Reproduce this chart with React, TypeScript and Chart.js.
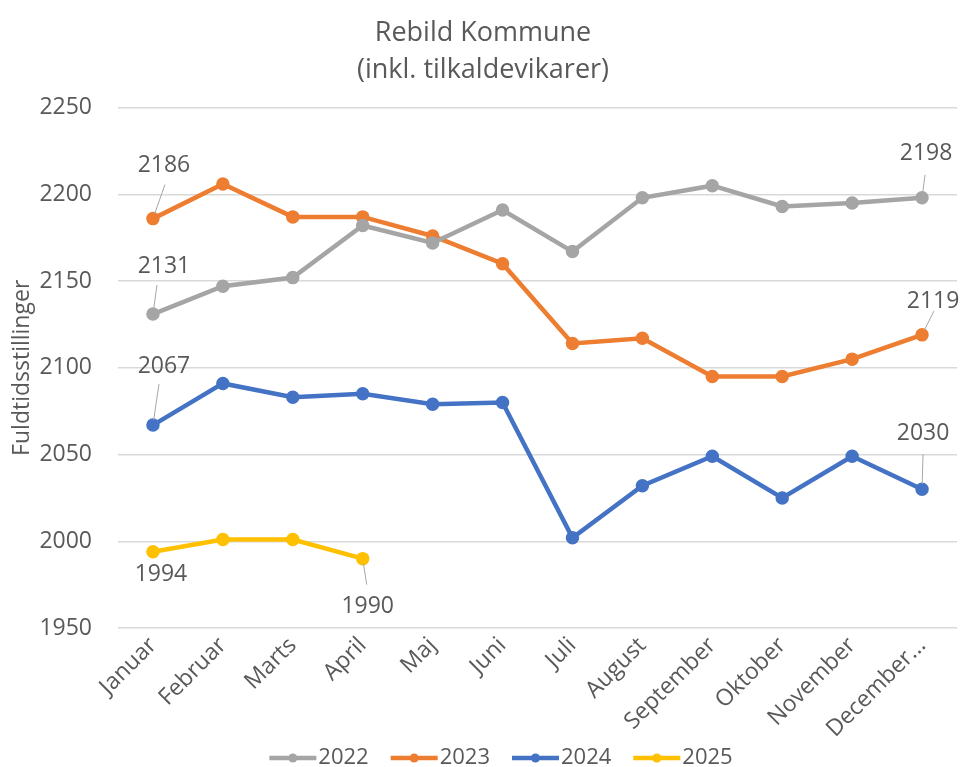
import React, { useEffect, useRef } from "react";
import { Chart, registerables } from "chart.js";

Chart.register(...registerables);

const months = ["Januar", "Februar", "Marts", "April", "Maj", "Juni", "Juli", "August", "September", "Oktober", "November", "December..."];
const years = ["2022", "2023", "2024", "2025"];
const values2022 = [2131, 2147, 2152, 2182, 2172, 2191, 2167, 2198, 2205, 2193, 2195, 2198];
const values2023 = [2186, 2206, 2187, 2187, 2176, 2160, 2114, 2117, 2095, 2095, 2105, 2119];
const values2024 = [2067, 2091, 2083, 2085, 2079, 2080, 2002, 2032, 2049, 2025, 2049, 2030];
const values2025 = [1994, 2001, 2001, 1990, null, null, null, null, null, null, null, null];
const colors = ["#A5A5A5", "#ED7D31", "#4472C4", "#FFC000"];
const yTicks = [1950, 2000, 2050, 2100, 2150, 2200, 2250];

// data labels: [datasetIndex, pointIndex, labelDx, labelDy, leaderEndDx, leaderEndDy] (leader null = none)
const labelSpecs: [number, number, number, number, number | null, number | null][] = [
  [0, 0, 11, -48, 4, -29],
  [1, 0, 11, -53, 12, -34],
  [2, 0, 11, -59, 6, -41],
  [3, 0, 8, 23, null, null],
  [3, 3, 5, 48, 4, 26],
  [0, 11, 4, -44, 3, -23],
  [1, 11, 11, -33, 12, -24],
  [2, 11, 1, -56, 1, -35],
];

const FONT = "'Open Sans', sans-serif";
const TEXT = "#595959";

const dataLabelPlugin = {
  id: "dataLabels",
  afterDatasetsDraw(chart: any) {
    const ctx = chart.ctx;
    ctx.save();
    ctx.font = `23px ${FONT}`;
    ctx.fillStyle = TEXT;
    ctx.textAlign = "center";
    ctx.textBaseline = "middle";
    for (const [di, pi, dx, dy, ex, ey] of labelSpecs) {
      const pt = chart.getDatasetMeta(di).data[pi];
      if (!pt) continue;
      const x = pt.x;
      const y = pt.y;
      const v = chart.data.datasets[di].data[pi];
      if (ex !== null && ey !== null) {
        const len = Math.hypot(ex, ey);
        ctx.strokeStyle = "#A6A6A6";
        ctx.lineWidth = 1;
        ctx.beginPath();
        ctx.moveTo(x + (ex / len) * 5, y + (ey / len) * 5);
        ctx.lineTo(x + ex, y + ey);
        ctx.stroke();
      }
      ctx.fillText(String(v), x + dx, y + dy);
    }
    ctx.restore();
  },
};

const legendPlugin = {
  id: "customLegend",
  afterDraw(chart: any) {
    const ctx = chart.ctx;
    ctx.save();
    ctx.font = `22px ${FONT}`;
    ctx.textBaseline = "middle";
    ctx.textAlign = "left";
    const lineW = 47;
    const gap = 2;
    const itemGap = 22;
    const widths = years.map((y) => ctx.measureText(y).width);
    const total = widths.reduce((a, w) => a + lineW + gap + w, 0) + itemGap * (years.length - 1);
    let x = chart.width / 2 + 18 - total / 2;
    const y = chart.height - 9;
    years.forEach((yr, i) => {
      ctx.strokeStyle = colors[i];
      ctx.lineWidth = 4.5;
      ctx.beginPath();
      ctx.moveTo(x, y);
      ctx.lineTo(x + lineW, y);
      ctx.stroke();
      ctx.fillStyle = colors[i];
      ctx.beginPath();
      ctx.arc(x + lineW / 2, y, 4.5, 0, Math.PI * 2);
      ctx.fill();
      ctx.fillStyle = TEXT;
      ctx.fillText(yr, x + lineW + gap, y);
      x += lineW + gap + widths[i] + itemGap;
    });
    ctx.restore();
  },
};

export default function App() {
  const ref = useRef<HTMLCanvasElement>(null);
  useEffect(() => {
    const seriesValues = [values2022, values2023, values2024, values2025];
    const chart = new Chart(ref.current!, {
      type: "line",
      data: {
        labels: months,
        datasets: years.map((y, i) => ({
          label: y,
          data: seriesValues[i],
          borderColor: colors[i],
          backgroundColor: colors[i],
          pointBackgroundColor: colors[i],
          pointBorderColor: colors[i],
          borderWidth: 4.5,
          pointRadius: 4.5,
          pointStyle: "circle",
          tension: 0,
          spanGaps: false,
        })) as any,
      },
      options: {
        animation: false,
        responsive: false,
        maintainAspectRatio: false,
        layout: { padding: { left: 6, right: 6, top: 0, bottom: 20 } },
        plugins: {
          title: {
            display: true,
            text: ["Rebild Kommune", "(inkl. tilkaldevikarer)"],
            color: TEXT,
            font: { family: FONT, size: 27, weight: "normal", lineHeight: 1.4 },
            padding: { top: 14, bottom: 18 },
          },
          legend: { display: false },
          tooltip: { enabled: false },
        },
        scales: {
          x: {
            offset: true,
            grid: { display: false, drawTicks: false },
            border: { display: false },
            afterFit: (scale: any) => {
              scale.paddingLeft = 0;
              scale.paddingRight = 0;
            },
            ticks: {
              color: TEXT,
              font: { family: FONT, size: 23 },
              maxRotation: 45,
              minRotation: 45,
              padding: 4,
              autoSkip: false,
            },
          },
          y: {
            min: 1950,
            max: 2250,
            afterBuildTicks: (scale: any) => {
              scale.ticks = yTicks.map((v) => ({ value: v }));
            },
            afterFit: (scale: any) => {
              scale.width = 112;
            },
            grid: { color: "#D9D9D9", lineWidth: 1.5, drawTicks: false },
            border: { display: false },
            ticks: {
              color: TEXT,
              font: { family: FONT, size: 23 },
              padding: 26,
              callback: (v: any) => String(v),
            },
            title: {
              display: true,
              text: "Fuldtidsstillinger",
              color: TEXT,
              font: { family: FONT, size: 23 },
              padding: { top: 3, bottom: 0 },
            },
          },
        },
      },
      plugins: [dataLabelPlugin, legendPlugin],
    });
    return () => chart.destroy();
  }, []);
  return (
    <div style={{ position: "fixed", left: 0, top: 0, width: 966, height: 767, background: "#fff" }}>
      <canvas ref={ref} width={966} height={767} style={{ width: 966, height: 767 }} />
    </div>
  );
}
